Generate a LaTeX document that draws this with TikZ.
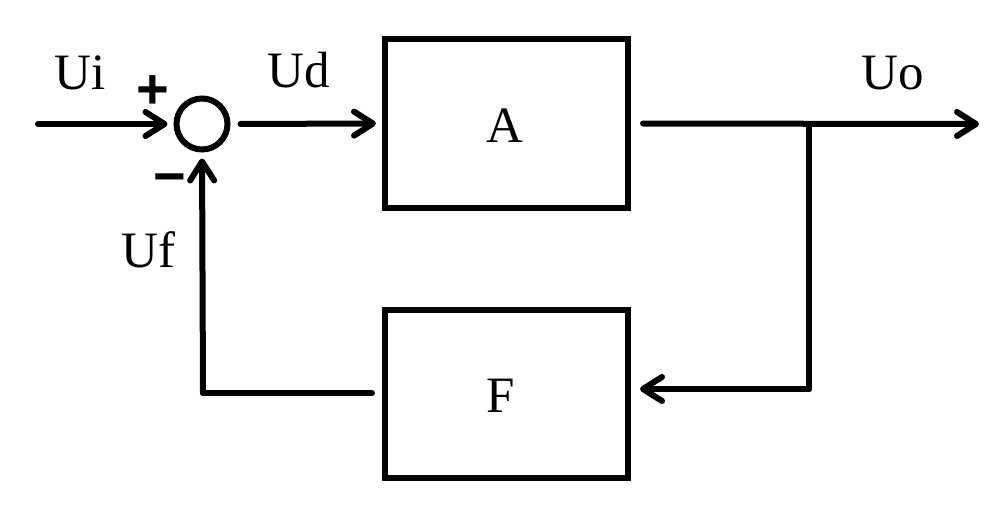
\documentclass[tikz,border=0pt]{standalone}
\usepackage{fontspec}
\setmainfont{Liberation Serif}
\newfontfamily\signfont{Liberation Sans}
\usetikzlibrary{arrows.meta}
\begin{document}
\begin{tikzpicture}[x=1pt,y=-1pt,
  wire/.style={line width=6pt,line cap=round,line join=round},
  arr/.style={wire,-{Straight Barb[length=19pt,width=24pt,round]}},
  blockbox/.style={draw,line width=6pt,minimum width=243pt,minimum height=168pt,inner sep=0pt,outer sep=0pt},
  sumnode/.style={draw,circle,line width=6pt,minimum size=51pt,inner sep=0pt,outer sep=0pt},
  lbl/.style={font=\fontsize{51}{60}\selectfont,inner sep=0pt,anchor=base west},
  sign/.style={font=\signfont\bfseries\fontsize{56}{60}\selectfont,inner sep=0pt,anchor=base}
]
\useasboundingbox (0,0) rectangle (1008,516);
\node[sumnode] (sum) at (202,124) {};
\node[blockbox] (A) at (506.5,123.5) {};
\node[blockbox] (F) at (506.5,393.5) {};
\node[font=\fontsize{51}{60}\selectfont,inner sep=0pt,anchor=base] (Alab) at (505,142) {A};
\node[font=\fontsize{51}{60}\selectfont,inner sep=0pt,anchor=base] (Flab) at (501,412) {F};
\coordinate (in) at (38,124);
\coordinate (out) at (979,124);
\coordinate (branch) at (809,124);
\coordinate (fbend) at (809,389);
\coordinate (fin) at (640,389);
\coordinate (fout) at (372,393);
\coordinate (corner) at (203,393);
% connectors
\draw[arr,shorten >=9pt] (in) -- (sum.west);
\draw[arr,shorten <=13pt,shorten >=9pt] (sum.east) -- (A.west);
\draw[arr,shorten <=15pt] (A.east) -- (out);
\draw[wire] (branch) -- (fbend);
\draw[arr] (fbend) -- (fin);
\draw[wire] (fout) -- (corner);
\draw[arr,shorten >=9pt] (corner) -- (sum.south);
% labels
\node[lbl] (Ui) at (54,90) {Ui};
\node[lbl] (Ud) at (267,88) {Ud};
\node[lbl] (Uo) at (861,90) {Uo};
\node[lbl] (Uf) at (121,267) {Uf};
\node[sign] (plus) at (153,109) {+};
\node[sign] (minus) at (170,195) {−};
\end{tikzpicture}
\end{document}
